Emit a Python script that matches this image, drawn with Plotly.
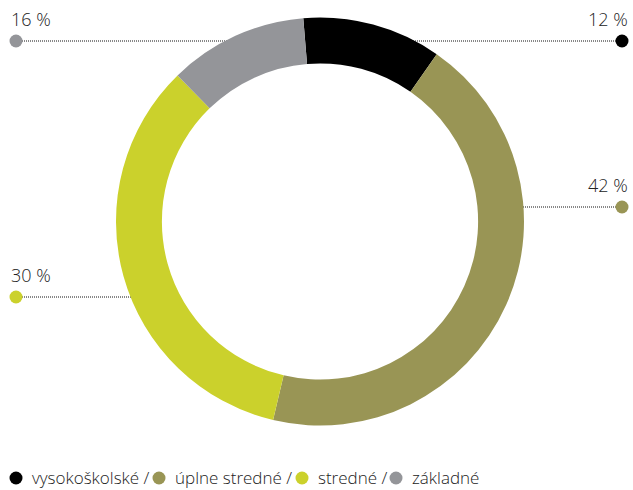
"""
Prstencový graf: vzdelanie (podiely), s odkazovými bodkami a legendou dole.
"""

import plotly.graph_objects as go

KATEGORIE = ["vysokoškolské", "úplne stredné", "stredné", "základné"]
PODIEL_OBLUK = [11, 44, 34, 11]          # velkost oblukov, ako su nakreslene
PODIEL_TEXT = ["12 %", "42 %", "30 %", "16 %"]  # vytlacene hodnoty
FARBY = ["#000000", "#999555", "#cbd12c", "#949599"]

W, H = 633, 490
TEXT_FARBA = "#222222"
PISMO = "Open Sans"

# kotvy odkazov v pixeloch: (x bodky, y ciary, koniec ciary pod prstencom, strana)
KOTVY = {
    "vysokoškolské": (622, 41, 330, "right"),
    "úplne stredné": (622, 207, 500, "right"),
    "stredné": (16, 297, 155, "left"),
    "základné": (16, 41, 300, "left"),
}
# legenda dole: x stredu bodky pre kazdu polozku
LEGENDA_X = [16, 159, 302, 396]
LEGENDA_Y = 478

fig = go.Figure()

fig.add_trace(go.Pie(
    labels=KATEGORIE, values=PODIEL_OBLUK, hole=0.775,
    sort=False, direction="clockwise", rotation=-4.7,
    marker=dict(colors=FARBY, line=dict(width=0)),
    textinfo="none", hoverinfo="label+percent", showlegend=False,
    domain=dict(x=[116 / W, 524 / W], y=[1 - 426 / H, 1 - 17 / H]),
))

for kat, farba, txt in zip(KATEGORIE, FARBY, PODIEL_TEXT):
    bx, by, koniec, strana = KOTVY[kat]
    fig.add_shape(type="line", xref="x", yref="y", x0=bx, x1=koniec, y0=by, y1=by,
                  line=dict(color="#111111", width=1, dash="1px,1px"), layer="below")
    fig.add_trace(go.Scatter(
        x=[bx], y=[by], mode="markers", showlegend=False, hoverinfo="skip",
        marker=dict(size=13, color=farba, line=dict(width=0)),
    ))
    fig.add_annotation(
        x=630 if strana == "right" else 9, y=by - 22, xref="x", yref="y",
        text=txt, showarrow=False,
        xanchor="right" if strana == "right" else "left", yanchor="middle",
        font=dict(family=PISMO, size=18, color=TEXT_FARBA, weight=300),
    )

# legenda: bodky ako markery, texty ako anotacie
fig.add_trace(go.Scatter(
    x=LEGENDA_X, y=[LEGENDA_Y] * len(KATEGORIE), mode="markers",
    showlegend=False, hoverinfo="skip",
    marker=dict(size=13, color=FARBY, line=dict(width=0)),
))
for i, (kat, lx) in enumerate(zip(KATEGORIE, LEGENDA_X)):
    posledna = i == len(KATEGORIE) - 1
    fig.add_annotation(
        x=lx + 14, y=LEGENDA_Y - 1, xref="x", yref="y",
        text=kat if posledna else kat + " /", showarrow=False,
        xanchor="left", yanchor="middle",
        font=dict(family=PISMO, size=17, color=TEXT_FARBA, weight=300),
    )

fig.update_layout(
    width=W, height=H, margin=dict(l=0, r=0, t=0, b=0),
    paper_bgcolor="white", plot_bgcolor="rgba(0,0,0,0)",
    xaxis=dict(range=[0, W], visible=False, fixedrange=True),
    yaxis=dict(range=[H, 0], visible=False, fixedrange=True),
)

fig.write_html("out.html", config={"displayModeBar": False},
               post_script="document.body.style.margin='0';")
